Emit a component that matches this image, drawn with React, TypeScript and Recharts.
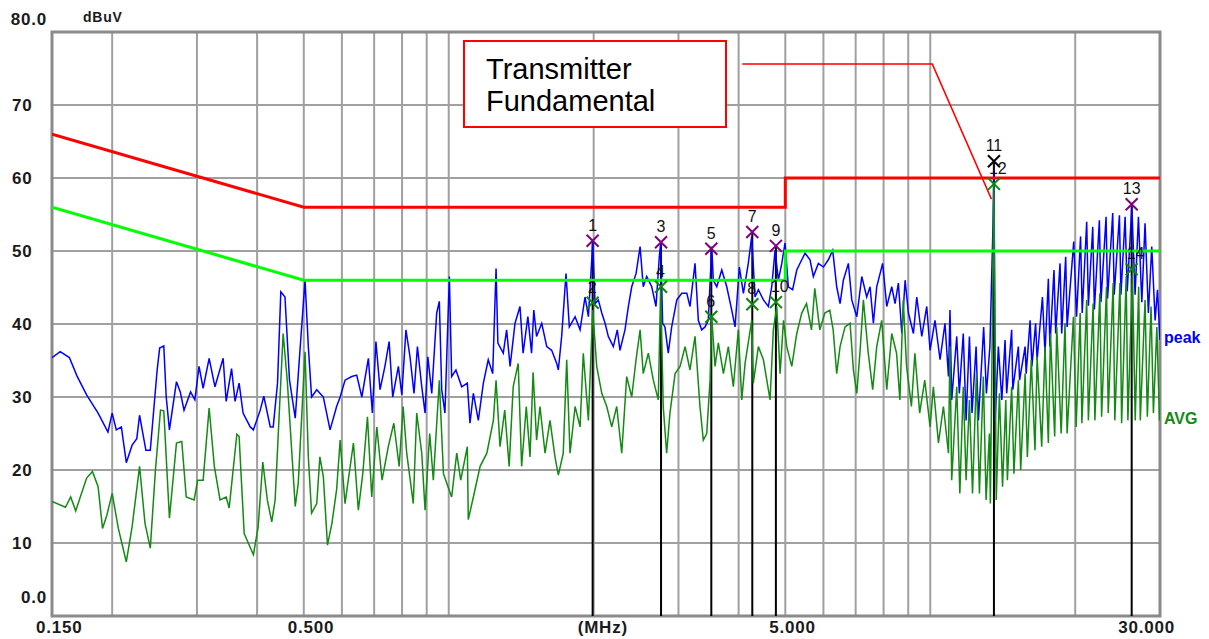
import {
    ComposedChart,
    Line,
    XAxis,
    YAxis,
    CartesianGrid,
    ReferenceArea
} from "recharts";

// peak detector scan, [MHz, dBuV]
const peakScan: [number, number][] = [
    [0.150, 35.4], [0.156, 36.2], [0.163, 35.4], [0.169, 32.9], [0.177, 30.3], [0.187, 27.8], [0.196, 25.2],
    [0.200, 27.8], [0.204, 25.5], [0.209, 25.9], [0.214, 21.0], [0.220, 23.4], [0.225, 24.3], [0.228, 27.5],
    [0.235, 22.7], [0.240, 22.7], [0.248, 33.7], [0.251, 36.7], [0.256, 37.0], [0.259, 30.0], [0.263, 25.5],
    [0.272, 32.1], [0.277, 30.7], [0.282, 28.2], [0.291, 30.7], [0.297, 29.6], [0.303, 34.2], [0.309, 31.2],
    [0.318, 35.3], [0.327, 31.4], [0.340, 35.3], [0.345, 29.4], [0.354, 33.9], [0.360, 29.4], [0.367, 31.9],
    [0.374, 27.8], [0.387, 25.9], [0.393, 25.5], [0.406, 28.2], [0.413, 30.1], [0.426, 25.9], [0.432, 25.9],
    [0.441, 31.9], [0.448, 44.4], [0.457, 43.7], [0.467, 32.3], [0.480, 27.1], [0.491, 36.4], [0.503, 46.0],
    [0.511, 36.9], [0.519, 30.0], [0.532, 31.0], [0.549, 30.0], [0.567, 25.5], [0.585, 28.7], [0.595, 30.0],
    [0.609, 32.3], [0.629, 32.8], [0.644, 33.0], [0.660, 30.0], [0.681, 35.3], [0.694, 27.8], [0.706, 37.6],
    [0.720, 31.0], [0.737, 34.2], [0.752, 37.6], [0.765, 30.0], [0.786, 34.2], [0.799, 30.3], [0.815, 39.2],
    [0.831, 35.5], [0.847, 30.5], [0.861, 36.9], [0.879, 31.4], [0.893, 27.8], [0.905, 35.5], [0.922, 30.5],
    [0.944, 41.5], [0.956, 43.1], [0.967, 31.0], [0.982, 27.8], [1.003, 46.5], [1.014, 32.8], [1.035, 33.7],
    [1.064, 31.4], [1.093, 31.9], [1.107, 26.4], [1.125, 30.5], [1.152, 26.8], [1.180, 31.9], [1.208, 35.1],
    [1.234, 33.2], [1.254, 47.6], [1.265, 37.4], [1.298, 36.0], [1.319, 39.2], [1.341, 34.2], [1.373, 40.1],
    [1.406, 42.4], [1.427, 36.0], [1.460, 41.0], [1.486, 36.0], [1.502, 41.9], [1.522, 38.3], [1.560, 40.1],
    [1.598, 36.9], [1.636, 36.4], [1.676, 34.6], [1.689, 33.7], [1.716, 38.3], [1.752, 46.9], [1.780, 39.6],
    [1.830, 41.0], [1.874, 39.2], [1.919, 43.7], [1.950, 41.0], [1.991, 51.1], [2.013, 42.8], [2.045, 43.3],
    [2.079, 41.5], [2.112, 40.1], [2.145, 38.3], [2.197, 36.9], [2.239, 39.2], [2.268, 36.4], [2.323, 39.2],
    [2.361, 42.4], [2.399, 45.1], [2.449, 46.9], [2.497, 50.6], [2.535, 45.1], [2.577, 46.5], [2.640, 45.1],
    [2.694, 42.4], [2.737, 49.2], [2.755, 51.1], [2.781, 40.1], [2.812, 39.6], [2.857, 36.0], [2.904, 39.6],
    [2.976, 43.3], [3.048, 44.2], [3.122, 44.2], [3.170, 42.4], [3.247, 48.3], [3.299, 40.5], [3.352, 39.2],
    [3.406, 39.6], [3.460, 40.5], [3.517, 50.6], [3.544, 46.0], [3.603, 45.1], [3.690, 47.4], [3.779, 45.1],
    [3.870, 41.9], [3.932, 39.6], [4.014, 47.8], [4.092, 44.2], [4.189, 48.3], [4.258, 52.0], [4.326, 43.7],
    [4.396, 44.7], [4.503, 43.3], [4.611, 42.4], [4.686, 45.1], [4.761, 50.1], [4.837, 46.0], [4.917, 48.3],
    [4.994, 51.1], [5.073, 45.1], [5.178, 44.7], [5.282, 47.4], [5.409, 48.8], [5.496, 49.7], [5.628, 48.8],
    [5.718, 46.5], [5.856, 48.3], [5.999, 47.8], [6.143, 48.8], [6.272, 50.1], [6.393, 45.1], [6.497, 42.8],
    [6.600, 46.0], [6.760, 48.3], [6.871, 43.3], [7.038, 41.0], [7.208, 46.5], [7.380, 43.7], [7.499, 45.1],
    [7.619, 40.1], [7.742, 45.1], [7.964, 48.3], [8.122, 42.4], [8.318, 45.1], [8.451, 42.8], [8.586, 45.6],
    [8.728, 38.7], [8.867, 46.0], [9.009, 41.5], [9.227, 38.7], [9.375, 43.7], [9.603, 38.3], [9.834, 42.4],
    [9.991, 36.4], [10.23, 40.5], [10.48, 35.1], [10.73, 40.1], [10.91, 32.8], [10.99, 41.9], [11.08, 29.6],
    [11.35, 38.3], [11.49, 30.5], [11.71, 38.7], [11.87, 26.8], [12.06, 38.3], [12.21, 27.8], [12.45, 36.9],
    [12.59, 26.8], [12.91, 39.6], [13.08, 30.5], [13.30, 36.9], [13.50, 53.6], [13.56, 62.3], [13.64, 26.8],
    [13.85, 36.9], [14.08, 29.6], [14.30, 37.8], [14.41, 30.5], [14.76, 39.2], [14.84, 31.0], [15.24, 36.9],
    [15.33, 32.3], [15.74, 36.9], [15.82, 33.2], [16.12, 40.5], [16.26, 34.2], [16.55, 40.1], [16.67, 35.1],
    [17.10, 43.7], [17.31, 36.0], [17.59, 46.2], [17.72, 36.9], [18.07, 47.4], [18.22, 38.7], [18.60, 48.3],
    [18.75, 38.7], [19.11, 49.2], [19.24, 39.6], [19.86, 51.3], [20.13, 41.0], [20.52, 52.0], [20.68, 41.5],
    [21.13, 54.0], [21.30, 42.5], [21.75, 53.3], [21.92, 42.0], [22.45, 54.2], [22.62, 43.0], [23.18, 54.7],
    [23.35, 43.5], [23.93, 55.2], [24.10, 44.0], [24.71, 54.9], [24.89, 44.0], [25.39, 54.7], [25.65, 44.5],
    [26.22, 56.1], [26.63, 44.0], [27.06, 54.7], [27.50, 43.0], [27.93, 53.8], [28.38, 41.5], [28.84, 50.6],
    [29.31, 40.5], [29.64, 44.7], [30.0, 37.8],
];

// average detector scan, [MHz, dBuV]
const avgScan: [number, number][] = [
    [0.150, 15.7], [0.160, 14.9], [0.164, 16.3], [0.168, 14.4], [0.177, 18.9], [0.182, 19.8], [0.187, 17.7],
    [0.191, 12.0], [0.195, 13.8], [0.200, 16.8], [0.206, 12.0], [0.214, 7.4], [0.220, 12.2], [0.228, 20.5],
    [0.234, 12.7], [0.240, 9.3], [0.246, 20.0], [0.252, 28.2], [0.256, 28.1], [0.263, 13.4], [0.272, 23.7],
    [0.279, 23.9], [0.285, 16.3], [0.296, 15.9], [0.301, 18.6], [0.309, 18.6], [0.318, 28.5], [0.326, 20.5],
    [0.335, 15.9], [0.345, 16.3], [0.350, 14.8], [0.363, 24.9], [0.367, 24.6], [0.376, 11.3], [0.393, 8.4],
    [0.402, 12.2], [0.411, 21.1], [0.420, 15.9], [0.429, 12.9], [0.436, 15.9], [0.445, 28.2], [0.453, 38.7],
    [0.462, 32.3], [0.480, 15.0], [0.487, 18.2], [0.503, 36.2], [0.511, 21.8], [0.519, 14.1], [0.532, 15.4],
    [0.540, 21.8], [0.549, 19.1], [0.560, 9.7], [0.572, 12.7], [0.585, 17.3], [0.595, 24.1], [0.609, 15.4],
    [0.634, 23.7], [0.649, 14.5], [0.663, 19.5], [0.678, 27.3], [0.692, 16.3], [0.709, 25.9], [0.727, 18.6],
    [0.749, 23.2], [0.769, 26.4], [0.789, 20.5], [0.804, 28.7], [0.818, 22.3], [0.844, 15.4], [0.858, 27.8],
    [0.879, 22.3], [0.893, 14.5], [0.913, 25.0], [0.929, 18.6], [0.956, 32.3], [0.975, 19.5], [1.014, 16.3],
    [1.039, 22.3], [1.059, 18.6], [1.093, 23.2], [1.098, 13.2], [1.125, 16.3], [1.162, 20.5], [1.200, 22.3],
    [1.238, 26.8], [1.254, 32.3], [1.278, 23.2], [1.307, 28.2], [1.335, 20.5], [1.361, 31.4], [1.394, 34.6],
    [1.417, 20.5], [1.449, 28.7], [1.475, 21.8], [1.497, 33.4], [1.522, 24.1], [1.547, 28.7], [1.585, 22.3],
    [1.623, 26.8], [1.662, 21.8], [1.689, 19.3], [1.729, 22.3], [1.758, 35.1], [1.786, 22.3], [1.830, 28.7],
    [1.874, 25.9], [1.903, 36.0], [1.950, 26.8], [1.991, 41.9], [2.029, 34.2], [2.079, 30.5], [2.129, 28.7],
    [2.180, 25.9], [2.233, 28.7], [2.287, 22.3], [2.342, 32.8], [2.399, 30.0], [2.449, 35.1], [2.497, 39.2],
    [2.535, 33.2], [2.597, 36.0], [2.660, 32.3], [2.724, 29.6], [2.755, 45.1], [2.789, 28.7], [2.835, 22.3],
    [2.880, 27.8], [2.952, 33.2], [3.023, 34.2], [3.096, 36.9], [3.170, 33.7], [3.247, 38.3], [3.325, 28.7],
    [3.378, 24.1], [3.434, 25.0], [3.489, 32.3], [3.517, 41.0], [3.573, 34.2], [3.630, 37.4], [3.719, 33.2],
    [3.808, 36.9], [3.900, 31.4], [3.994, 39.2], [4.060, 29.6], [4.125, 34.6], [4.258, 40.5], [4.291, 31.9],
    [4.396, 36.9], [4.503, 35.1], [4.649, 29.6], [4.722, 39.2], [4.800, 42.4], [4.877, 33.2], [4.957, 40.5],
    [5.035, 36.9], [5.157, 34.2], [5.282, 38.7], [5.409, 41.5], [5.534, 42.8], [5.667, 39.2], [5.757, 44.9],
    [5.897, 39.2], [6.040, 41.5], [6.185, 41.9], [6.286, 39.2], [6.393, 33.2], [6.497, 36.9], [6.653, 39.6],
    [6.815, 40.1], [6.925, 33.7], [7.038, 30.5], [7.151, 36.4], [7.263, 43.3], [7.435, 36.0], [7.594, 31.0],
    [7.742, 36.9], [7.928, 40.5], [8.122, 31.0], [8.318, 38.7], [8.512, 36.0], [8.648, 29.6], [8.788, 43.3],
    [8.930, 34.2], [9.138, 28.7], [9.292, 36.0], [9.506, 27.8], [9.741, 32.3], [9.991, 25.9], [10.15, 31.4],
    [10.40, 23.7], [10.65, 28.7], [10.91, 22.3], [10.99, 36.9], [11.08, 18.6], [11.35, 31.4], [11.52, 16.8],
    [11.71, 31.4], [11.87, 18.6], [12.06, 29.6], [12.24, 16.8], [12.47, 33.2], [12.65, 16.8], [12.89, 32.8],
    [13.06, 15.9], [13.27, 25.0], [13.33, 15.4], [13.56, 59.2], [13.71, 15.9], [13.92, 30.5], [14.13, 17.7],
    [14.35, 29.6], [14.46, 18.6], [14.76, 31.4], [14.92, 19.5], [15.24, 32.3], [15.41, 20.0], [15.74, 33.2],
    [15.91, 21.8], [16.21, 35.1], [16.50, 22.7], [16.67, 35.5], [17.04, 23.2], [17.31, 36.9], [17.59, 23.7],
    [17.77, 38.7], [18.13, 24.6], [18.31, 39.6], [18.70, 25.0], [19.05, 40.1], [19.24, 25.0], [19.83, 41.0],
    [20.09, 25.9], [20.48, 41.5], [20.65, 26.4], [21.13, 43.3], [21.30, 26.8], [21.79, 42.8], [21.97, 26.8],
    [22.50, 44.2], [22.69, 27.3], [23.23, 45.1], [23.42, 27.8], [23.98, 45.6], [24.17, 26.8], [24.77, 45.6],
    [24.97, 26.4], [25.52, 46.5], [25.73, 26.8], [26.30, 46.9], [26.65, 26.8], [27.09, 45.1], [27.30, 26.8],
    [27.93, 43.3], [28.24, 27.3], [28.74, 42.4], [29.07, 27.8], [29.55, 39.6], [29.93, 26.8],
];

// limits
const limitFreq = [0.15, 0.5, 5, 5, 30];
const qpLimit = [66, 56, 56, 60, 60];
const avgLimit = [56, 46, 46, 50, 50];

// final measurement markers
const markerFreq = [1.99, 2.76, 3.51, 4.27, 4.78, 13.56, 26.2];
const markerQp = [51.4, 51.2, 50.3, 52.6, 50.7, 62.3, 56.4];
const markerAvg = [42.9, 45.1, 41.0, 42.7, 43.0, 59.2, 47.5];
const FUNDAMENTAL = 13.56;

// callout from the text box down to the fundamental
const calloutPath: [number, number][] = [[4.07, 75.6], [10.1, 75.6], [13.4, 57.1]];

const gridFreq = [0.15, 0.2, 0.3, 0.4, 0.5, 0.6, 0.7, 0.8, 0.9, 1, 2, 3, 4, 5, 6, 7, 8, 9, 10, 20, 30];
const xLabelFreq = [0.15, 0.5, 2, 5, 30];
const xLabels = ["0.150", "0.500", "(MHz)", "5.000", "30.000"];
const yTicks = [0, 10, 20, 30, 40, 50, 60, 70, 80];

const toPoints = (rows: [number, number][]) => rows.map(([f, v]) => ({ f, v }));

const peakData = toPoints(peakScan);
const avgData = toPoints(avgScan);
const qpLimitData = limitFreq.map((f, i) => ({ f, v: qpLimit[i] }));
const avgLimitData = limitFreq.map((f, i) => ({ f, v: avgLimit[i] }));
const qpMarkers = markerFreq.map((f, i) => ({ f, v: markerQp[i] }));
const avgMarkers = markerFreq.map((f, i) => ({ f, v: markerAvg[i] }));
const calloutData = toPoints(calloutPath);

const axisFont = {
    fontFamily: "'Liberation Sans', Arial, sans-serif",
    fontWeight: 700,
    fontSize: 17,
    letterSpacing: 0.8,
    fill: "#1a1a1a",
};

function XTick(props: any) {
    const { x, payload } = props;
    const i = xLabelFreq.indexOf(payload.value);
    if (i < 0) return <g />;
    const last = i === xLabels.length - 1;
    return (
        <text x={last ? x + 15 : x - 16} y={633} textAnchor={last ? "end" : "start"} {...axisFont}>
            {xLabels[i]}
        </text>
    );
}

function YTick(props: any) {
    const { y, payload } = props;
    const v = payload.value;
    const edge = v === 0 || v === 80;
    const baseline = v === 80 ? y - 7 : v === 0 ? y - 13 : y + 6;
    return (
        <text x={edge ? 47 : 12} y={baseline} textAnchor={edge ? "end" : "start"} {...axisFont}>
            {edge ? v.toFixed(1) : String(v)}
        </text>
    );
}

const markerDot = (kind: "qp" | "avg") => (props: any) => {
    const { cx, cy, index, payload } = props;
    const n = kind === "qp" ? index * 2 + 1 : index * 2 + 2;
    const color = kind === "avg" ? "#0a8a0a" : payload.f === FUNDAMENTAL ? "#000" : "#800080";
    const s = 6;
    return (
        <g key={`${kind}-${index}`}>
            <path
                d={`M${cx - s},${cy - s}L${cx + s},${cy + s}M${cx - s},${cy + s}L${cx + s},${cy - s}`}
                stroke={color}
                strokeWidth={2}
                fill="none"
            />
            <text
                x={kind === "qp" ? cx : cx - 5}
                y={cy - 10}
                textAnchor={kind === "qp" ? "middle" : "start"}
                fontFamily="'Liberation Sans', Arial, sans-serif"
                fontSize={16}
                fill="#111"
            >
                {n}
            </text>
        </g>
    );
};

const overlayText = (s: number) => ({
    position: "absolute" as const,
    fontFamily: "'Liberation Sans', Arial, sans-serif",
    fontSize: s,
    lineHeight: 1,
    whiteSpace: "nowrap" as const,
});

export default function App() {
    return (
        <div style={{ position: "absolute", left: 0, top: 0, width: 1209, height: 639, background: "#fff" }}>
            <ComposedChart width={1209} height={639} margin={{ top: 32, right: 49, bottom: 0, left: 0 }}>
                <CartesianGrid stroke="#a0a0a0" strokeWidth={2} />
                <XAxis
                    dataKey="f"
                    type="number"
                    scale="log"
                    domain={[0.15, 30]}
                    ticks={gridFreq}
                    interval={0}
                    allowDataOverflow
                    axisLine={false}
                    tickLine={false}
                    height={23}
                    tick={<XTick />}
                />
                <YAxis
                    type="number"
                    domain={[0, 80]}
                    ticks={yTicks}
                    interval={0}
                    allowDataOverflow
                    axisLine={false}
                    tickLine={false}
                    width={52}
                    tick={<YTick />}
                />

                {markerFreq.map((f, i) => (
                    <Line
                        key={`stem-${i}`}
                        data={[{ f, v: 0 }, { f, v: markerQp[i] }]}
                        dataKey="v"
                        stroke="#000"
                        strokeWidth={2}
                        dot={false}
                        activeDot={false}
                        isAnimationActive={false}
                    />
                ))}

                <Line data={peakData} dataKey="v" stroke="#0000ff" strokeWidth={1.5} dot={false} activeDot={false} isAnimationActive={false} />
                <Line data={avgData} dataKey="v" stroke="#138a13" strokeWidth={1.5} dot={false} activeDot={false} isAnimationActive={false} />

                <Line data={qpLimitData} dataKey="v" stroke="#ff0000" strokeWidth={3} dot={false} activeDot={false} isAnimationActive={false} />
                <Line data={avgLimitData} dataKey="v" stroke="#00ff00" strokeWidth={3} dot={false} activeDot={false} isAnimationActive={false} />

                <Line data={qpMarkers} dataKey="v" stroke="none" dot={markerDot("qp")} activeDot={false} isAnimationActive={false} />
                <Line data={avgMarkers} dataKey="v" stroke="none" dot={markerDot("avg")} activeDot={false} isAnimationActive={false} />

                <Line data={calloutData} dataKey="v" stroke="#ff0000" strokeWidth={1.5} dot={false} activeDot={false} isAnimationActive={false} />

                <ReferenceArea x1={0.15} x2={30} y1={0} y2={80} fill="none" stroke="#8a8a8a" strokeWidth={3} ifOverflow="visible" />
            </ComposedChart>

            <div style={{ ...overlayText(14), left: 83, top: 10, fontWeight: 700, letterSpacing: 0.8, color: "#1a1a1a" }}>dBuV</div>
            <div style={{ ...overlayText(16), left: 1164, top: 330, fontWeight: 700, color: "#0000ff" }}>peak</div>
            <div style={{ ...overlayText(16), left: 1164, top: 411, fontWeight: 700, color: "#138a13" }}>AVG</div>

            <div
                style={{
                    position: "absolute",
                    left: 463,
                    top: 40,
                    width: 264,
                    height: 88,
                    boxSizing: "border-box",
                    border: "2px solid #ff0000",
                    background: "#fff",
                }}
            />
            <div style={{ ...overlayText(29), left: 486, top: 55, color: "#000" }}>Transmitter</div>
            <div style={{ ...overlayText(29), left: 486, top: 87, color: "#000" }}>Fundamental</div>
        </div>
    );
}
